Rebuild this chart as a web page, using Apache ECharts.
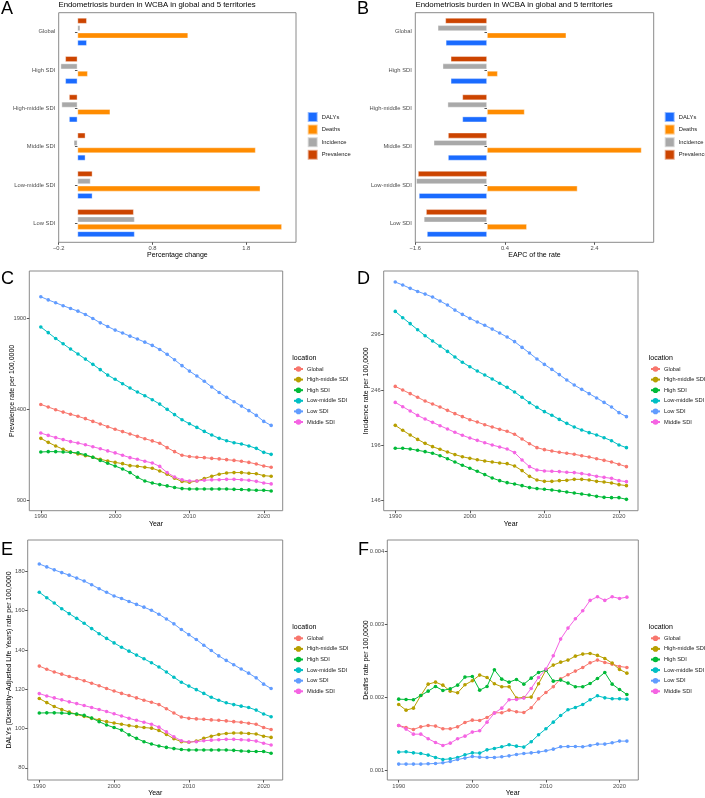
<!DOCTYPE html>
<html>
<head>
<meta charset="utf-8">
<script src="https://cdn.jsdelivr.net/npm/echarts@6/dist/echarts.min.js"></script>
<style>
  html, body { margin: 0; padding: 0; background: #ffffff; }
  #chart { width: 705px; height: 798px; }
</style>
</head>
<body>
<div id="chart"></div>
<script>
// ---- panels A / B : bar data ----
const barLocations = ['Global', 'High SDI', 'High-middle SDI', 'Middle SDI', 'Low-middle SDI', 'Low SDI'];
const measures = ['DALYs', 'Deaths', 'Incidence', 'Prevalence'];

const pctPrevalence = [0.10, -0.13, -0.09, 0.085, 0.16, 0.60];
const pctIncidence = [0.03, -0.18, -0.17, -0.04, 0.14, 0.61];
const pctDeaths = [1.18, 0.11, 0.35, 1.90, 1.95, 2.18];
const pctDALYs = [0.10, -0.13, -0.09, 0.085, 0.16, 0.61];

const eapcPrevalence = [-0.93, -0.81, -0.55, -0.87, -1.54, -1.36];
const eapcIncidence = [-1.10, -0.99, -0.88, -1.19, -1.58, -1.41];
const eapcDeaths = [1.77, 0.24, 0.84, 3.45, 2.02, 0.89];
const eapcDALYs = [-0.92, -0.81, -0.55, -0.87, -1.52, -1.34];

// ---- panels C-F : trend data ----
const years = [1990, 1991, 1992, 1993, 1994, 1995, 1996, 1997, 1998, 1999, 2000, 2001, 2002, 2003, 2004, 2005,
  2006, 2007, 2008, 2009, 2010, 2011, 2012, 2013, 2014, 2015, 2016, 2017, 2018, 2019, 2020, 2021];
const locations = ['Global', 'High-middle SDI', 'High SDI', 'Low-middle SDI', 'Low SDI', 'Middle SDI'];

// prevalence rate
const prevGlobal = [1426, 1412, 1397, 1384, 1372, 1361, 1348, 1333, 1319, 1304, 1290, 1277, 1264, 1251, 1238, 1226,
  1213, 1189, 1167, 1147, 1140, 1136, 1134, 1130, 1127, 1123, 1119, 1114, 1108, 1099, 1088, 1081];
const prevHighMiddle = [1240, 1218, 1198, 1180, 1165, 1154, 1145, 1136, 1125, 1116, 1108, 1101, 1090, 1087, 1081, 1076,
  1061, 1043, 1021, 1003, 999, 1006, 1019, 1032, 1043, 1050, 1052, 1052, 1048, 1046, 1035, 1032];
const prevHigh = [1165, 1167, 1167, 1165, 1163, 1160, 1150, 1136, 1119, 1103, 1088, 1072, 1052, 1026, 1006, 995,
  986, 979, 970, 964, 962, 962, 962, 962, 962, 962, 960, 959, 957, 955, 955, 951];
const prevLowMiddle = [1851, 1820, 1788, 1759, 1730, 1703, 1675, 1646, 1617, 1587, 1564, 1540, 1516, 1494, 1474, 1452,
  1428, 1399, 1370, 1342, 1320, 1300, 1278, 1258, 1240, 1227, 1216, 1209, 1198, 1185, 1163, 1152];
const prevLow = [2017, 2000, 1984, 1968, 1953, 1938, 1920, 1898, 1874, 1854, 1834, 1818, 1801, 1785, 1768, 1750,
  1728, 1701, 1671, 1639, 1609, 1582, 1553, 1522, 1492, 1465, 1441, 1417, 1392, 1366, 1333, 1311];
const prevMiddle = [1269, 1256, 1244, 1233, 1222, 1214, 1205, 1194, 1183, 1171, 1160, 1147, 1134, 1125, 1114, 1105,
  1086, 1052, 1028, 1012, 1006, 1006, 1010, 1012, 1013, 1015, 1015, 1013, 1010, 1004, 995, 990];

// incidence rate
const incGlobal = [249.2, 245.9, 242.6, 239.3, 235.9, 233.2, 230.5, 227.5, 224.5, 221.8, 219.0, 216.9, 214.5, 212.4, 210.3, 208.5,
  205.8, 201.5, 197.3, 193.7, 191.9, 190.7, 189.5, 188.6, 187.7, 186.4, 185.2, 183.7, 182.2, 180.7, 178.6, 176.5];
const incHighMiddle = [213.9, 209.4, 205.2, 201.2, 197.6, 194.6, 192.2, 189.8, 187.4, 185.5, 184.0, 182.8, 181.6, 180.7, 179.8, 179.2,
  177.1, 172.9, 167.7, 164.4, 163.2, 163.2, 163.8, 164.1, 165.0, 165.0, 164.4, 163.2, 162.6, 161.7, 160.2, 159.3];
const incHigh = [193.1, 193.1, 192.5, 191.3, 190.1, 188.6, 186.4, 183.7, 180.7, 177.7, 175.0, 172.3, 169.3, 166.2, 163.8, 162.0,
  160.8, 159.3, 157.5, 156.6, 156.0, 155.4, 154.5, 153.5, 152.6, 151.7, 150.8, 149.6, 148.7, 148.4, 148.4, 146.9];
const incLowMiddle = [317.1, 311.4, 306.0, 300.5, 295.1, 290.3, 285.7, 280.9, 275.8, 271.0, 267.0, 263.1, 259.5, 255.9, 252.0, 248.3,
  244.1, 239.3, 234.4, 230.2, 226.3, 223.0, 219.3, 215.7, 212.4, 209.7, 207.3, 205.2, 202.7, 200.0, 196.1, 193.7];
const incLow = [343.7, 341.0, 338.0, 335.2, 332.8, 330.1, 326.5, 322.9, 318.3, 314.4, 310.8, 307.5, 304.5, 301.1, 297.5, 293.9,
  289.7, 284.5, 279.4, 274.0, 269.1, 264.6, 259.8, 255.0, 250.4, 246.5, 242.6, 238.7, 234.7, 230.5, 225.4, 221.8];
const incMiddle = [234.7, 230.8, 226.9, 222.9, 219.6, 216.6, 213.6, 210.6, 207.6, 204.9, 202.4, 200.3, 198.2, 196.1, 194.3, 192.5,
  189.2, 182.5, 176.5, 173.5, 172.6, 172.3, 172.0, 171.4, 171.1, 170.2, 169.2, 167.7, 166.8, 165.9, 163.8, 162.9];

// DALYs rate
const dalyGlobal = [131.8, 130.2, 128.8, 127.7, 126.5, 125.5, 124.3, 123.1, 121.8, 120.4, 119.1, 117.9, 116.8, 115.6, 114.4, 113.4,
  112.2, 110.1, 107.9, 105.9, 105.2, 104.9, 104.7, 104.4, 104.2, 103.9, 103.5, 103.2, 102.7, 102.2, 100.5, 99.5];
const dalyHighMiddle = [115.3, 113.2, 111.2, 109.7, 108.4, 107.2, 106.2, 105.2, 104.4, 103.5, 102.8, 102.2, 101.5, 101.0, 100.5, 100.2,
  99.0, 97.0, 94.8, 93.3, 93.0, 93.6, 95.0, 96.1, 97.0, 97.5, 97.7, 97.7, 97.5, 97.2, 96.1, 95.5];
const dalyHigh = [107.9, 108.0, 108.0, 107.9, 107.7, 107.4, 106.7, 105.4, 103.5, 101.8, 100.5, 99.2, 96.8, 95.0, 93.3, 92.1,
  91.1, 90.4, 89.8, 89.3, 89.1, 89.1, 89.1, 89.1, 89.1, 89.1, 88.9, 88.6, 88.4, 88.3, 88.3, 87.4];
const dalyLowMiddle = [169.4, 166.6, 163.9, 161.0, 158.5, 156.1, 153.6, 150.9, 148.3, 145.9, 143.6, 141.4, 139.4, 137.4, 135.5, 133.5,
  131.3, 128.8, 126.1, 123.6, 121.6, 119.8, 117.9, 115.9, 114.4, 113.1, 112.2, 111.4, 110.7, 109.4, 107.4, 106.0];
const dalyLow = [183.8, 182.3, 180.8, 179.4, 178.1, 176.6, 175.1, 173.2, 171.2, 169.4, 167.5, 166.2, 164.7, 163.2, 161.8, 160.2,
  158.2, 155.8, 153.3, 150.4, 147.8, 145.3, 142.4, 139.7, 137.0, 134.7, 132.5, 130.3, 128.2, 125.8, 122.6, 120.4];
const dalyMiddle = [117.8, 116.6, 115.6, 114.6, 113.6, 112.7, 111.7, 110.7, 109.7, 108.7, 107.5, 106.4, 105.2, 104.2, 103.2, 102.2,
  100.7, 98.3, 95.8, 93.8, 93.1, 93.3, 93.8, 94.1, 94.3, 94.5, 94.5, 94.3, 94.1, 93.6, 92.5, 91.6];

// deaths rate
const deathGlobal = [0.001618, 0.001590, 0.001563, 0.001599, 0.001618, 0.001609, 0.001572, 0.001572, 0.001599, 0.001659, 0.001690, 0.001686, 0.001727, 0.001791, 0.001791, 0.001827,
  0.001804, 0.001795, 0.001859, 0.001982, 0.002068, 0.002146, 0.002255, 0.002310, 0.002360, 0.002410, 0.002473, 0.002510, 0.002478, 0.002455, 0.002423, 0.002410];
const deathHighMiddle = [0.001904, 0.001827, 0.001854, 0.002027, 0.002182, 0.002209, 0.002168, 0.002086, 0.002064, 0.002173, 0.002228, 0.002305, 0.002273, 0.002187, 0.002146, 0.002146,
  0.001991, 0.002000, 0.002005, 0.002187, 0.002373, 0.002442, 0.002482, 0.002510, 0.002564, 0.002592, 0.002601, 0.002574, 0.002533, 0.002469, 0.002382, 0.002332];
const deathHigh = [0.001977, 0.001973, 0.001968, 0.002027, 0.002086, 0.002150, 0.002096, 0.002118, 0.002168, 0.002278, 0.002287, 0.002100, 0.002150, 0.002378, 0.002250, 0.002209,
  0.002246, 0.002182, 0.002264, 0.002341, 0.002373, 0.002223, 0.002237, 0.002196, 0.002146, 0.002146, 0.002191, 0.002259, 0.002341, 0.002182, 0.002109, 0.002041];
const deathLowMiddle = [0.001254, 0.001258, 0.001244, 0.001235, 0.001213, 0.001181, 0.001153, 0.001162, 0.001181, 0.001217, 0.001244, 0.001240, 0.001285, 0.001304, 0.001326, 0.001354,
  0.001335, 0.001322, 0.001395, 0.001490, 0.001572, 0.001663, 0.001754, 0.001832, 0.001863, 0.001904, 0.001968, 0.002023, 0.001995, 0.001982, 0.001982, 0.001977];
const deathLow = [0.001090, 0.001090, 0.001090, 0.001090, 0.001094, 0.001099, 0.001108, 0.001126, 0.001153, 0.001172, 0.001194, 0.001185, 0.001181, 0.001181, 0.001190, 0.001203,
  0.001222, 0.001235, 0.001244, 0.001254, 0.001272, 0.001294, 0.001326, 0.001331, 0.001331, 0.001326, 0.001345, 0.001363, 0.001363, 0.001381, 0.001404, 0.001404];
const deathMiddle = [0.001618, 0.001568, 0.001499, 0.001499, 0.001436, 0.001386, 0.001345, 0.001376, 0.001436, 0.001472, 0.001527, 0.001545, 0.001663, 0.001786, 0.001854, 0.001968,
  0.001973, 0.001991, 0.002123, 0.002273, 0.002387, 0.002569, 0.002797, 0.002947, 0.003074, 0.003183, 0.003325, 0.003375, 0.003325, 0.003375, 0.003352, 0.003370];

// tick labels
const pctTicks = [-0.2, 0.8, 1.8];
const eapcTicks = [-1.6, 0.4, 2.4];
const yearTicks = [1990, 2000, 2010, 2020];
const prevTicks = [900, 1400, 1900];
const incTicks = [146, 196, 246, 296];
const dalyTicks = [80, 100, 120, 140, 160, 180];
const deathTicks = [0.001, 0.002, 0.003, 0.004];

const measureColors = { DALYs: '#1a6bff', Deaths: '#ff8c00', Incidence: '#a9a9a9', Prevalence: '#cc4400' };
const locationColors = ['#F8766D', '#B79F00', '#00BA38', '#00BFC4', '#619CFF', '#F564E3'];

const FONT = 'Liberation Sans, Arial, sans-serif';
const tickColor = '#4d4d4d';

const myChart = echarts.init(document.getElementById('chart'));

const grids = [
  { left: 58.7, top: 12.7, width: 237.3, height: 229.6 },   // A
  { left: 415.3, top: 12.7, width: 238.4, height: 229.6 },  // B
  { left: 29.3, top: 271, width: 253.4, height: 239.7 },    // C
  { left: 383.7, top: 271, width: 254.3, height: 239.7 },   // D
  { left: 27.7, top: 540, width: 255, height: 241.5 },      // E
  { left: 387.3, top: 540, width: 251, height: 240 }        // F
].map(g => Object.assign({
  show: true, borderColor: '#8a8a8a', borderWidth: 1, backgroundColor: 'transparent', containLabel: false
}, g));

const minus = v => String(v).replace('-', '\u2212');

// value axis helper with hand-placed ticks
const valueAxis = (idx, min, max, ticks, fmt, extra) => Object.assign({
  type: 'value',
  gridIndex: idx,
  min: min,
  max: max,
  splitLine: { show: false },
  axisLine: { show: false },
  axisTick: { show: true, length: 2.5, lineStyle: { color: '#555' }, customValues: ticks },
  axisLabel: { color: tickColor, fontSize: 5.8, fontFamily: FONT, margin: 3, customValues: ticks, formatter: fmt },
  nameMoveOverlap: false,
  nameTextStyle: { color: '#000', fontSize: 7, fontFamily: FONT }
}, extra || {});

const xAxes = [
  valueAxis(0, -0.2, 2.33, pctTicks, v => minus(Math.round(v * 10) / 10),
    { name: 'Percentage change', nameLocation: 'middle', nameGap: 9 }),
  valueAxis(1, -1.6, 3.72, eapcTicks, v => minus(Math.round(v * 10) / 10),
    { name: 'EAPC of the rate', nameLocation: 'middle', nameGap: 9 }),
  valueAxis(2, 1988.45, 2022.55, yearTicks, v => String(Math.round(v)), { name: 'Year', nameLocation: 'middle', nameGap: 10 }),
  valueAxis(3, 1988.45, 2022.55, yearTicks, v => String(Math.round(v)), { name: 'Year', nameLocation: 'middle', nameGap: 10 }),
  valueAxis(4, 1988.45, 2022.55, yearTicks, v => String(Math.round(v)), { name: 'Year', nameLocation: 'middle', nameGap: 10 }),
  valueAxis(5, 1988.45, 2022.55, yearTicks, v => String(Math.round(v)), { name: 'Year', nameLocation: 'middle', nameGap: 10 })
];

const catAxis = idx => ({
  type: 'category',
  gridIndex: idx,
  data: barLocations,
  inverse: true,
  axisLine: { show: false },
  axisTick: { show: true, length: 2.5, alignWithLabel: true, lineStyle: { color: '#555' } },
  axisLabel: { color: tickColor, fontSize: 5.8, fontFamily: FONT, margin: 3.5 },
  splitLine: { show: false }
});

const yAxes = [
  catAxis(0),
  catAxis(1),
  valueAxis(2, 842.8, 2158.5, prevTicks, v => String(Math.round(v)),
    { name: 'Prevalence rate per 100,0000', nameLocation: 'middle', nameGap: 14, nameRotate: 90 }),
  valueAxis(3, 136.6, 353.7, incTicks, v => String(Math.round(v)),
    { name: 'Incidence rate per 100,0000', nameLocation: 'middle', nameGap: 14, nameRotate: 90 }),
  valueAxis(4, 73.8, 196, dalyTicks, v => String(Math.round(v)),
    { name: 'DALYs (Disability\u2212Adjusted Life Years) rate per 100,0000', nameLocation: 'middle', nameGap: 15, nameRotate: 90 }),
  valueAxis(5, 0.000873, 0.00415, deathTicks, v => (Math.round(v * 1000) / 1000).toFixed(3),
    { name: 'Deaths rate per 100,0000', nameLocation: 'middle', nameGap: 18, nameRotate: 90 })
];

// bars, listed top-to-bottom as drawn inside each group
const barSeries = (idx, prev, inc, deaths, dalys) => [
  ['Prevalence', prev], ['Incidence', inc], ['Deaths', deaths], ['DALYs', dalys]
].map(([name, values]) => ({
  type: 'bar',
  name: name,
  xAxisIndex: idx,
  yAxisIndex: idx,
  data: values,
  barWidth: 5.8,
  barGap: '27%',
  itemStyle: { color: measureColors[name], borderColor: 'rgba(255,255,255,0.55)', borderWidth: 0.7 },
  emphasis: { disabled: true },
  animation: false
}));

const trendSets = [
  [prevGlobal, prevHighMiddle, prevHigh, prevLowMiddle, prevLow, prevMiddle],
  [incGlobal, incHighMiddle, incHigh, incLowMiddle, incLow, incMiddle],
  [dalyGlobal, dalyHighMiddle, dalyHigh, dalyLowMiddle, dalyLow, dalyMiddle],
  [deathGlobal, deathHighMiddle, deathHigh, deathLowMiddle, deathLow, deathMiddle]
];

const lineSeries = [];
trendSets.forEach((set, k) => {
  set.forEach((values, i) => {
    lineSeries.push({
      type: 'line',
      name: locations[i],
      xAxisIndex: k + 2,
      yAxisIndex: k + 2,
      data: years.map((y, j) => [y, values[j]]),
      symbol: 'circle',
      symbolSize: 3.6,
      lineStyle: { width: 1, color: locationColors[i] },
      itemStyle: { color: locationColors[i] },
      emphasis: { disabled: true },
      animation: false
    });
  });
});

const barLegend = (left) => ({
  data: measures,
  orient: 'vertical',
  left: left,
  top: 111,
  padding: 0,
  icon: 'rect',
  itemWidth: 10,
  itemHeight: 10,
  itemGap: 0.6,
  selectedMode: false,
  textStyle: { fontSize: 5.8, color: '#1a1a1a', fontFamily: FONT, padding: [0, 0, 0, -1] }
});

const lineLegend = (left, top) => ({
  data: locations,
  orient: 'vertical',
  left: left,
  top: top,
  padding: 0,
  itemWidth: 9,
  itemHeight: 7,
  itemGap: 4.6,
  selectedMode: false,
  textStyle: { fontSize: 5.7, color: '#1a1a1a', fontFamily: FONT, padding: [0, 0, 0, -1] }
});

const letter = (text, x, y) => ({
  type: 'text', left: x, top: y,
  style: { text: text, fontSize: 18, fontFamily: FONT, fill: '#000' }
});
const legendTitle = (x, y) => ({
  type: 'text', left: x, top: y,
  style: { text: 'location', fontSize: 7, fontFamily: FONT, fill: '#000' }
});

const option = {
  backgroundColor: '#ffffff',
  animation: false,
  title: [
    { text: 'Endometriosis burden in WCBA in global and 5 territories', left: 58.5, top: 0.5, padding: 0,
      textStyle: { fontSize: 7.8, fontWeight: 'normal', color: '#000', fontFamily: FONT } },
    { text: 'Endometriosis burden in WCBA in global and 5 territories', left: 415.5, top: 0.5, padding: 0,
      textStyle: { fontSize: 7.8, fontWeight: 'normal', color: '#000', fontFamily: FONT } }
  ],
  grid: grids,
  xAxis: xAxes,
  yAxis: yAxes,
  legend: [
    barLegend(306.7),
    barLegend(663.7),
    lineLegend(293, 366),
    lineLegend(650, 366),
    lineLegend(293, 635.3),
    lineLegend(650, 635.3)
  ],
  graphic: [
    letter('A', 1, 0),
    letter('B', 357, 0),
    letter('C', 1, 270),
    letter('D', 357, 270),
    letter('E', 1, 541),
    letter('F', 358, 541),
    legendTitle(292.3, 354.5),
    legendTitle(648.7, 354.5),
    legendTitle(292.3, 623.5),
    legendTitle(648.7, 623.5)
  ],
  series: barSeries(0, pctPrevalence, pctIncidence, pctDeaths, pctDALYs)
    .concat(barSeries(1, eapcPrevalence, eapcIncidence, eapcDeaths, eapcDALYs))
    .concat(lineSeries)
};

myChart.setOption(option);
</script>
</body>
</html>
